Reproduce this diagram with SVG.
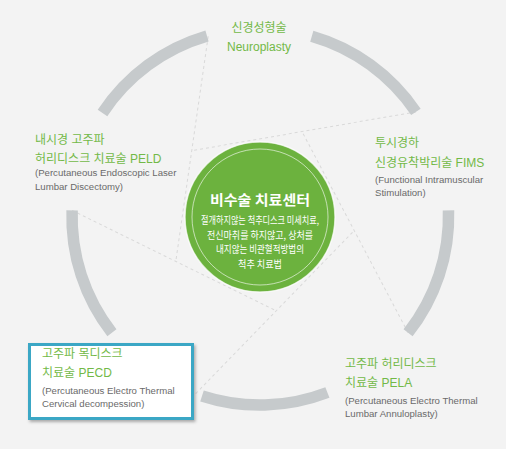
<svg xmlns="http://www.w3.org/2000/svg" xmlns:xlink="http://www.w3.org/1999/xlink" width="506" height="449" viewBox="0 0 506 449">
<defs>
<style>
.arc{fill:none;stroke:#c6cacc;stroke-width:11.5}
.dash{fill:none;stroke:#d9d9d9;stroke-width:1;stroke-dasharray:3 3}
.t{font-family:"Liberation Sans","Noto Sans CJK KR",sans-serif;font-size:12px;fill:#72b947}
.s{font-family:"Liberation Sans","Noto Sans CJK KR",sans-serif;font-size:9.6px;fill:#6a6a6a}
.ct{font-family:"Noto Sans CJK KR",sans-serif;font-size:14px;font-weight:bold;fill:#ffffff}
.cb{font-family:"Noto Sans CJK KR",sans-serif;font-size:10px;fill:#ffffff}
</style>
<filter id="sh" x="-10%" y="-10%" width="130%" height="140%">
<feDropShadow dx="1.5" dy="2" stdDeviation="1.5" flood-color="#000" flood-opacity="0.3"/>
</filter>
<path id="ln" class="dash" d="M208.2 36.3 L175.8 261.4"/>
</defs>
<rect width="506" height="449" fill="#f3f3f3"/>
<g id="connectors">
<use xlink:href="#ln"/>
<use xlink:href="#ln" transform="rotate(72 260 217)"/>
<use xlink:href="#ln" transform="rotate(144 260 217)"/>
<use xlink:href="#ln" transform="rotate(216 260 217)"/>
<use xlink:href="#ln" transform="rotate(288 260 217)"/>
</g>
<g id="ring">
<path class="arc" d="M102.5 113 A188 188 0 0 1 207 36"/>
<path class="arc" d="M311.8 36.3 A188 188 0 0 1 415.9 111.9"/>
<path class="arc" d="M448.5 210.4 A188 188 0 0 1 408.1 332.7"/>
<path class="arc" d="M327.4 392.5 A188 188 0 0 1 202 396"/>
<path class="arc" d="M111.9 332.7 A188 188 0 0 1 72.1 210.4"/>
</g>
<g id="center">
<circle cx="260" cy="217" r="75" fill="#6cb23e" stroke="#ffffff" stroke-opacity="0.7" stroke-width="1.5"/>
<circle cx="260" cy="217" r="68" fill="none" stroke="#ffffff" stroke-opacity="0.75" stroke-width="0.8"/>
<text class="ct" x="260" y="205" text-anchor="middle" textLength="100" lengthAdjust="spacingAndGlyphs">비수술 치료센터</text>
<text class="cb" x="260" y="224" text-anchor="middle" textLength="118" lengthAdjust="spacingAndGlyphs">절개하지않는 척추디스크 미세치료,</text>
<text class="cb" x="260" y="238.5" text-anchor="middle" textLength="106" lengthAdjust="spacingAndGlyphs">전신마취를 하지않고, 상처를</text>
<text class="cb" x="260" y="253" text-anchor="middle" textLength="88" lengthAdjust="spacingAndGlyphs">내지않는 비관혈적방법의</text>
<text class="cb" x="260" y="267.5" text-anchor="middle" textLength="44" lengthAdjust="spacingAndGlyphs">척추 치료법</text>
</g>
<g id="neuroplasty">
<text class="t" x="259" y="32" text-anchor="middle">신경성형술</text>
<text class="t" x="259" y="51" text-anchor="middle">Neuroplasty</text>
</g>
<g id="peld">
<text class="t" x="35" y="144">내시경 고주파</text>
<text class="t" x="35" y="163">허리디스크 치료술 PELD</text>
<text class="s" x="35" y="176">(Percutaneous Endoscopic Laser</text>
<text class="s" x="35" y="190">Lumbar Discectomy)</text>
</g>
<g id="fims">
<text class="t" x="375" y="147">투시경하</text>
<text class="t" x="375" y="167">신경유착박리술 FIMS</text>
<text class="s" x="375" y="183">(Functional Intramuscular</text>
<text class="s" x="375" y="196">Stimulation)</text>
</g>
<g id="pecd">
<rect x="29.5" y="344.5" width="163" height="74" fill="#ffffff" stroke="#3aa7c5" stroke-width="3" filter="url(#sh)"/>
<text class="t" x="42" y="358">고주파 목디스크</text>
<text class="t" x="42" y="377">치료술 PECD</text>
<text class="s" x="42" y="394">(Percutaneous Electro Thermal</text>
<text class="s" x="42" y="407">Cervical decompession)</text>
</g>
<g id="pela">
<text class="t" x="345" y="368">고주파 허리디스크</text>
<text class="t" x="345" y="387">치료술 PELA</text>
<text class="s" x="345" y="404">(Percutaneous Electro Thermal</text>
<text class="s" x="345" y="417">Lumbar Annuloplasty)</text>
</g>
</svg>
